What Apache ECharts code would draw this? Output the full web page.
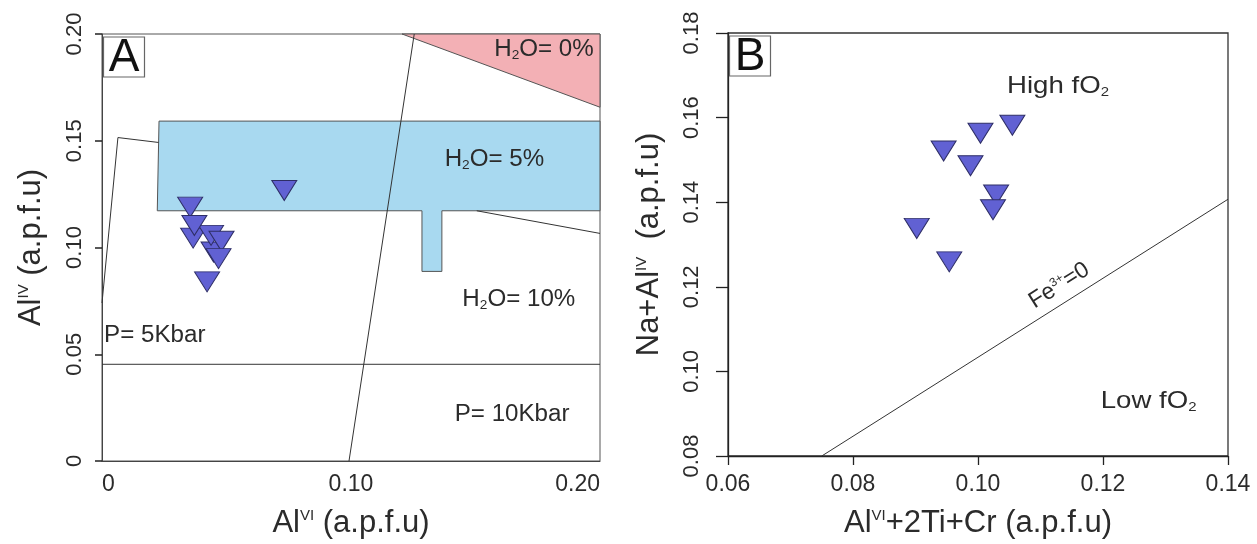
<!DOCTYPE html>
<html><head><meta charset="utf-8">
<script src="https://cdn.jsdelivr.net/npm/echarts@6/dist/echarts.min.js"></script>
<style>html,body{margin:0;padding:0;background:#fff}#c{width:1257px;height:544px}</style>
</head><body><div id="c"></div>
<script>
// ---------- Panel A data ----------
const aSampleX = [0.0366, 0.0448, 0.0438, 0.0354, 0.0371, 0.0480, 0.0468, 0.0422, 0.0732];
const aSampleY = [0.1044, 0.0979, 0.1057, 0.1189, 0.1103, 0.1029, 0.0948, 0.0839, 0.1267];
const aXTicks = [0, 0.10, 0.20];
const aYTicks = [0, 0.05, 0.10, 0.15, 0.20];
const aPinkRegion = [[0.1205, 0.2], [0.2, 0.2], [0.2, 0.1657]];
const aBlueRegion = [[0.0229, 0.1592], [0.2, 0.1592], [0.2, 0.1172], [0.1365, 0.1172], [0.1365, 0.0888],
                     [0.1285, 0.0888], [0.1285, 0.1172], [0.0222, 0.1172]];
const aLineLeft = [[0, 0.0740], [0.0064, 0.1515], [0.0227, 0.1492]];
const aLineSteep = [[0.0992, 0], [0.1254, 0.2]];
const aLineP = [[0, 0.0453], [0.2, 0.0453]];
const aLineRight = [[0.1505, 0.1172], [0.2, 0.1066]];
const aLabels = [
  {x: 0.1775, y: 0.1926, t: 'H{s|2}O= 0%'},
  {x: 0.1576, y: 0.1411, t: 'H{s|2}O= 5%'},
  {x: 0.1674, y: 0.0756, t: 'H{s|2}O= 10%'},
  {x: 0.0212, y: 0.0589, t: 'P= 5Kbar'},
  {x: 0.1647, y: 0.0218, t: 'P= 10Kbar'}
];
// ---------- Panel B data ----------
const bSampleX = [0.1055, 0.1004, 0.0945, 0.0988, 0.1029, 0.1024, 0.0902, 0.0954];
const bSampleY = [0.1582, 0.1563, 0.1521, 0.1486, 0.1417, 0.1382, 0.1338, 0.1259];
const bXTicks = [0.06, 0.08, 0.10, 0.12, 0.14];
const bYTicks = [0.08, 0.10, 0.12, 0.14, 0.16, 0.18];
const bLineFe = [[0.075, 0.08], [0.14, 0.1407]];
const bLabels = [
  {x: 0.1128, y: 0.1674, t: 'High fO{s|2}'},
  {x: 0.1273, y: 0.0928, t: 'Low fO{s|2}'}
];
const bFeLabel = {x: 0.1130, y: 0.1203, t: 'Fe{p|3+}=0'};

// ---------- chart ----------
const FONT = '"Liberation Sans", Arial, Helvetica, sans-serif';
const TXT = '#2b2b2b';
const pts = (xs, ys) => xs.map((x, i) => [x, ys[i]]);
const fmt = v => (v === 0 ? '0' : v.toFixed(2));

function polySeries(xi, region, fill, stroke) {
  return {
    type: 'custom', xAxisIndex: xi, yAxisIndex: xi, silent: true, z: 1,
    data: [region[0]],
    renderItem: (params, api) => ({
      type: 'polygon',
      shape: {points: region.map(p => api.coord(p))},
      style: {fill: fill, stroke: stroke, lineWidth: 1}
    })
  };
}
function lineSeries(xi, data) {
  return {
    type: 'line', xAxisIndex: xi, yAxisIndex: xi, data: data, symbol: 'none', silent: true, z: 3,
    lineStyle: {color: '#333', width: 1}
  };
}
function textSeries(xi, items, size, sx) {
  return {
    type: 'custom', xAxisIndex: xi, yAxisIndex: xi, silent: true, z: 6,
    data: items.map(d => [d.x, d.y]),
    renderItem: (params, api) => {
      const p = api.coord([api.value(0), api.value(1)]);
      return {
        type: 'text', x: p[0], y: p[1], scaleX: sx,
        style: {
          text: items[params.dataIndex].t, fill: TXT, fontSize: size, fontFamily: FONT,
          align: 'center', verticalAlign: 'middle',
          rich: {s: {fontSize: Math.round(size * 0.55), fontFamily: FONT, fill: TXT, verticalAlign: 'bottom', padding: [Math.round(size*0.5), 0, 0, 0]}}
        }
      };
    }
  };
}
function panelLetter(xi, letter) {
  return {
    type: 'custom', xAxisIndex: xi, yAxisIndex: xi, silent: true, z: 7,
    data: [[0, 0]],
    renderItem: (params, api) => {
      const axisX = xi === 0 ? 0 : 0.06;
      const axisY = xi === 0 ? 0.2 : 0.18;
      const p = api.coord([axisX, axisY]);
      return {
        type: 'group', children: [
          {type: 'rect', shape: {x: p[0] + 1.5, y: p[1] + 3, width: 41, height: 40},
           style: {fill: '#fff', stroke: '#666', lineWidth: 1.2}},
          {type: 'text', x: p[0] + 22, y: p[1] + 24,
           style: {text: letter, fontSize: 46, fontFamily: FONT, fill: '#111', align: 'center', verticalAlign: 'middle'}}
        ]
      };
    }
  };
}

const xTickLabel = {color: TXT, fontSize: 23, fontFamily: FONT};
const yTickLabel = {color: TXT, fontSize: 22, fontFamily: FONT};
const nameStyle = {
  color: TXT, fontSize: 31, fontFamily: FONT,
  rich: {sup: {fontSize: 15, fontFamily: FONT, color: TXT, verticalAlign: 'top', padding: [0, 0, 15, 0]}}
};

const option = {
  animation: false,
  backgroundColor: '#fff',
  grid: [
    {left: 102, right: 657, top: 34, bottom: 79, show: true, borderColor: '#555', borderWidth: 1},
    {left: 728, right: 29, top: 33, bottom: 82, show: true, borderColor: '#333', borderWidth: 1.3}
  ],
  xAxis: [
    {gridIndex: 0, type: 'value', min: aXTicks[0], max: aXTicks[aXTicks.length - 1], interval: 0.1,
     splitLine: {show: false}, axisLine: {onZero: false, lineStyle: {color: '#444'}}, axisTick: {show: false},
     axisLabel: Object.assign({margin: 12, alignMinLabel: 'left', alignMaxLabel: 'right', formatter: fmt}, xTickLabel),
     name: 'Al{sup|VI} (a.p.f.u)', nameLocation: 'middle', nameGap: 47, nameTextStyle: nameStyle},
    {gridIndex: 1, type: 'value', min: bXTicks[0], max: bXTicks[bXTicks.length - 1], interval: 0.02,
     splitLine: {show: false}, axisLine: {onZero: false, lineStyle: {color: '#222', width: 1.3}},
     axisTick: {show: true, length: 9, lineStyle: {color: '#222', width: 1.3}},
     axisLabel: Object.assign({margin: 17, formatter: v => v.toFixed(2)}, xTickLabel),
     name: 'Al{sup|VI}+2Ti+Cr (a.p.f.u)', nameLocation: 'middle', nameGap: 52, nameTextStyle: nameStyle}
  ],
  yAxis: [
    {gridIndex: 0, type: 'value', min: aYTicks[0], max: aYTicks[aYTicks.length - 1], interval: 0.05,
     splitLine: {show: false}, axisLine: {onZero: false, lineStyle: {color: '#444'}},
     axisTick: {show: true, length: 7, lineStyle: {color: '#222', width: 1.5}},
     axisLabel: Object.assign({margin: 16, rotate: 90, formatter: fmt}, yTickLabel),
     name: 'Al{sup|IV} (a.p.f.u)', nameLocation: 'middle', nameGap: 55, nameTextStyle: nameStyle},
    {gridIndex: 1, type: 'value', min: bYTicks[0], max: bYTicks[bYTicks.length - 1], interval: 0.02,
     splitLine: {show: false}, axisLine: {onZero: false, lineStyle: {color: '#222', width: 1.3}},
     axisTick: {show: true, length: 12, lineStyle: {color: '#222', width: 1.3}},
     axisLabel: Object.assign({margin: 25, rotate: 90, formatter: v => v.toFixed(2)}, yTickLabel),
     name: 'Na+Al{sup|IV}  (a.p.f.u)', nameLocation: 'middle', nameGap: 63, nameTextStyle: nameStyle}
  ],
  series: [
    polySeries(0, aPinkRegion, '#f3b0b5', '#555'),
    polySeries(0, aBlueRegion, '#a8d9f0', '#555'),
    lineSeries(0, aLineLeft),
    lineSeries(0, aLineSteep),
    lineSeries(0, aLineP),
    lineSeries(0, aLineRight),
    lineSeries(1, bLineFe),
    textSeries(0, aLabels, 23, 1.05),
    textSeries(1, bLabels, 24, 1.15),
    {
      type: 'custom', xAxisIndex: 1, yAxisIndex: 1, silent: true, z: 6,
      data: [[bFeLabel.x, bFeLabel.y]],
      renderItem: (params, api) => {
        const p = api.coord([api.value(0), api.value(1)]);
        const a = api.coord(bLineFe[0]), b = api.coord(bLineFe[1]);
        const ang = Math.atan2(a[1] - b[1], b[0] - a[0]);
        return {
          type: 'text', x: p[0], y: p[1], rotation: ang,
          style: {text: bFeLabel.t, fill: TXT, fontSize: 23, fontFamily: FONT, align: 'center', verticalAlign: 'middle',
            rich: {p: {fontSize: 12, fontFamily: FONT, fill: TXT, verticalAlign: 'top', padding: [0, 0, 11, 0]}}}
        };
      }
    },
    {
      type: 'scatter', xAxisIndex: 0, yAxisIndex: 0, data: pts(aSampleX, aSampleY), z: 8,
      symbol: 'triangle', symbolRotate: 180, symbolSize: [25, 20],
      itemStyle: {color: '#6161d3', borderColor: '#2e2e66', borderWidth: 1, opacity: 1}
    },
    {
      type: 'scatter', xAxisIndex: 1, yAxisIndex: 1, data: pts(bSampleX, bSampleY), z: 8,
      symbol: 'triangle', symbolRotate: 180, symbolSize: [25, 20],
      itemStyle: {color: '#6161d3', borderColor: '#2e2e66', borderWidth: 1, opacity: 1}
    },
    panelLetter(0, 'A'),
    panelLetter(1, 'B')
  ]
};
const chart = echarts.init(document.getElementById('c'));
chart.setOption(option);
</script>
</body></html>
